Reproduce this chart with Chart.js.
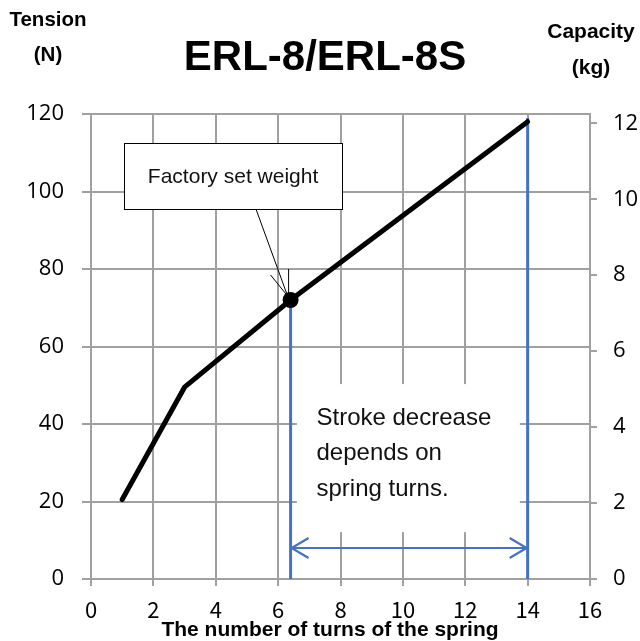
<!DOCTYPE html>
<html><head><meta charset="utf-8">
<script src="https://cdn.jsdelivr.net/npm/chart.js@4"></script>
<style>html,body{margin:0;padding:0;background:#fff}#wrap{position:relative;width:640px;height:641px}</style>
</head><body><div id="wrap"><canvas id="c" width="640" height="641"></canvas></div>
<script>
// ---- data ----
const turns = [1, 3, 6.4, 14];
const tensionN = [20.5, 49.5, 72, 118];
const factoryTurns = [6.4];
const factoryTension = [72];
const strokeTurns = [6.4, 14];
const strokeTop = [72, 119];
const arrowLevel = 8;
const xTickValues = [0, 2, 4, 6, 8, 10, 12, 14, 16];
const yTickValues = [0, 20, 40, 60, 80, 100, 120];
const kgTickValues = [0, 2, 4, 6, 8, 10, 12];
const titleText = 'ERL-8/ERL-8S';
const leftTitle = ['Tension', '(N)'];
const rightTitle = ['Capacity', '(kg)'];
const xTitle = 'The number of turns of the spring';
const calloutText = 'Factory set weight';
const noteLines = ['Stroke decrease', 'depends on', 'spring turns.'];

const GRID = '#a0a0a0';
const BLUE = '#4472c4';

const pts = (xs, ys) => xs.map((x, i) => ({x, y: ys[i]}));

const overlay = {
  id: 'overlay',
  beforeDatasetsDraw(chart) {
    const {ctx} = chart, X = chart.scales.x, Y = chart.scales.y;
    ctx.save();
    // note box (white, covers grid)
    const nx1 = X.getPixelForValue(6.6), nx2 = X.getPixelForValue(13.75);
    const ny1 = Y.getPixelForValue(50.3), ny2 = Y.getPixelForValue(12.1);
    ctx.fillStyle = '#fff';
    ctx.fillRect(nx1, ny1, nx2 - nx1, ny2 - ny1);
    // callout box
    const cx1 = X.getPixelForValue(1.06), cx2 = X.getPixelForValue(8.05);
    const cy1 = Y.getPixelForValue(112.5), cy2 = Y.getPixelForValue(95.5);
    ctx.fillRect(cx1, cy1, cx2 - cx1, cy2 - cy1);
    ctx.strokeStyle = '#000'; ctx.lineWidth = 1;
    ctx.strokeRect(Math.round(cx1) + 0.5, Math.round(cy1) + 0.5, Math.round(cx2 - cx1), Math.round(cy2 - cy1));
    ctx.fillStyle = '#111';
    ctx.font = '21px "Liberation Sans", Arial, sans-serif';
    ctx.textAlign = 'center'; ctx.textBaseline = 'middle';
    ctx.fillText(calloutText, (cx1 + cx2) / 2, (cy1 + cy2) / 2 + 1);
    // pointer
    const dx = X.getPixelForValue(factoryTurns[0]), dy = Y.getPixelForValue(factoryTension[0]);
    const sx = cx1 + 0.605 * (cx2 - cx1);
    ctx.beginPath();
    ctx.moveTo(sx, cy2); ctx.lineTo(dx - 3, dy - 4);
    ctx.moveTo(dx - 20, dy - 25); ctx.lineTo(dx - 3, dy - 4);
    ctx.moveTo(dx - 2, dy - 31); ctx.lineTo(dx - 2, dy - 4);
    ctx.stroke();
    // note text
    ctx.fillStyle = '#111';
    ctx.font = '24px "Liberation Sans", Arial, sans-serif';
    ctx.textAlign = 'left'; ctx.textBaseline = 'middle';
    const tx = X.getPixelForValue(7.23);
    noteLines.forEach((t, i) => ctx.fillText(t, tx, Y.getPixelForValue(41.5) + i * 35.5));
    ctx.restore();
  },
  afterDatasetsDraw(chart) {
    const {ctx} = chart, X = chart.scales.x, Y = chart.scales.y;
    const ay = Y.getPixelForValue(arrowLevel);
    const ax1 = X.getPixelForValue(strokeTurns[0]), ax2 = X.getPixelForValue(strokeTurns[1]);
    ctx.save();
    ctx.strokeStyle = BLUE; ctx.lineWidth = 2.2;
    ctx.beginPath();
    ctx.moveTo(ax1 + 18, ay - 10); ctx.lineTo(ax1 + 1, ay); ctx.lineTo(ax1 + 18, ay + 10);
    ctx.moveTo(ax2 - 18, ay - 10); ctx.lineTo(ax2 - 1, ay); ctx.lineTo(ax2 - 18, ay + 10);
    ctx.stroke();
    ctx.restore();
  },
  afterDraw(chart) {
    const {ctx} = chart;
    ctx.save();
    ctx.fillStyle = '#000';
    ctx.textAlign = 'center'; ctx.textBaseline = 'middle';
    ctx.font = 'bold 42px "Liberation Sans", Arial, sans-serif';
    ctx.fillText(titleText, 325, 58);
    ctx.font = 'bold 20.5px "Liberation Sans", Arial, sans-serif';
    ctx.fillText(leftTitle[0], 48, 20);
    ctx.fillText(leftTitle[1], 48, 55);
    ctx.font = 'bold 21px "Liberation Sans", Arial, sans-serif';
    ctx.fillText(rightTitle[0], 591, 32);
    ctx.fillText(rightTitle[1], 591, 68);
    ctx.font = 'bold 21px "Liberation Sans", Arial, sans-serif';
    ctx.fillText(xTitle, 330, 630);
    ctx.restore();
  }
};

new Chart(document.getElementById('c'), {
  type: 'scatter',
  data: {
    datasets: [
      {data: pts(factoryTurns, factoryTension), pointRadius: 8, pointBackgroundColor: '#000', pointBorderWidth: 0, order: 0},
      {data: pts(turns, tensionN), showLine: true, borderColor: '#000', borderWidth: 5, pointRadius: 0, order: 1, borderCapStyle: 'round'},
      {data: [{x: strokeTurns[0], y: 0}, {x: strokeTurns[0], y: strokeTop[0]}], showLine: true, borderColor: BLUE, borderWidth: 3, pointRadius: 0, order: 2},
      {data: [{x: strokeTurns[1], y: 0}, {x: strokeTurns[1], y: strokeTop[1]}], showLine: true, borderColor: BLUE, borderWidth: 3, pointRadius: 0, order: 3},
      {data: [{x: strokeTurns[0], y: arrowLevel}, {x: strokeTurns[1], y: arrowLevel}], showLine: true, borderColor: BLUE, borderWidth: 2.2, pointRadius: 0, order: 4}
    ]
  },
  options: {
    responsive: false,
    animation: false,
    devicePixelRatio: 1,
    layout: {padding: {top: 114, left: 0, right: 0, bottom: 0}},
    plugins: {legend: {display: false}, tooltip: {enabled: false}, title: {display: false}},
    scales: {
      x: {
        type: 'linear', min: 0, max: 16,
        afterBuildTicks: s => { s.ticks = xTickValues.map(v => ({value: v})); },
        afterFit: s => { s.height = 62; },
        ticks: {color: '#000', padding: 10, maxRotation: 0, font: {family: '"Noto Sans CJK JP", sans-serif', size: 22, weight: 400}},
        grid: {color: GRID, lineWidth: 2, tickLength: 7},
        border: {color: GRID, width: 2}
      },
      y: {
        position: 'left', min: 0, max: 120,
        afterBuildTicks: s => { s.ticks = yTickValues.map(v => ({value: v})); },
        afterFit: s => { s.width = 91; },
        ticks: {color: '#000', padding: 18, font: {family: '"Open Sans", sans-serif', size: 22}},
        grid: {color: GRID, lineWidth: 2, tickLength: 9},
        border: {color: GRID, width: 2}
      },
      y2: {
        position: 'right', min: 0, max: 120 / 9.8,
        afterBuildTicks: s => { s.ticks = kgTickValues.map(v => ({value: v})); },
        afterFit: s => { s.width = 50; },
        ticks: {color: '#000', padding: 16, font: {family: '"Open Sans", sans-serif', size: 22}},
        grid: {color: GRID, lineWidth: 2, tickLength: 7, drawOnChartArea: false},
        border: {color: GRID, width: 2}
      }
    }
  },
  plugins: [overlay]
});
</script>
</body></html>
